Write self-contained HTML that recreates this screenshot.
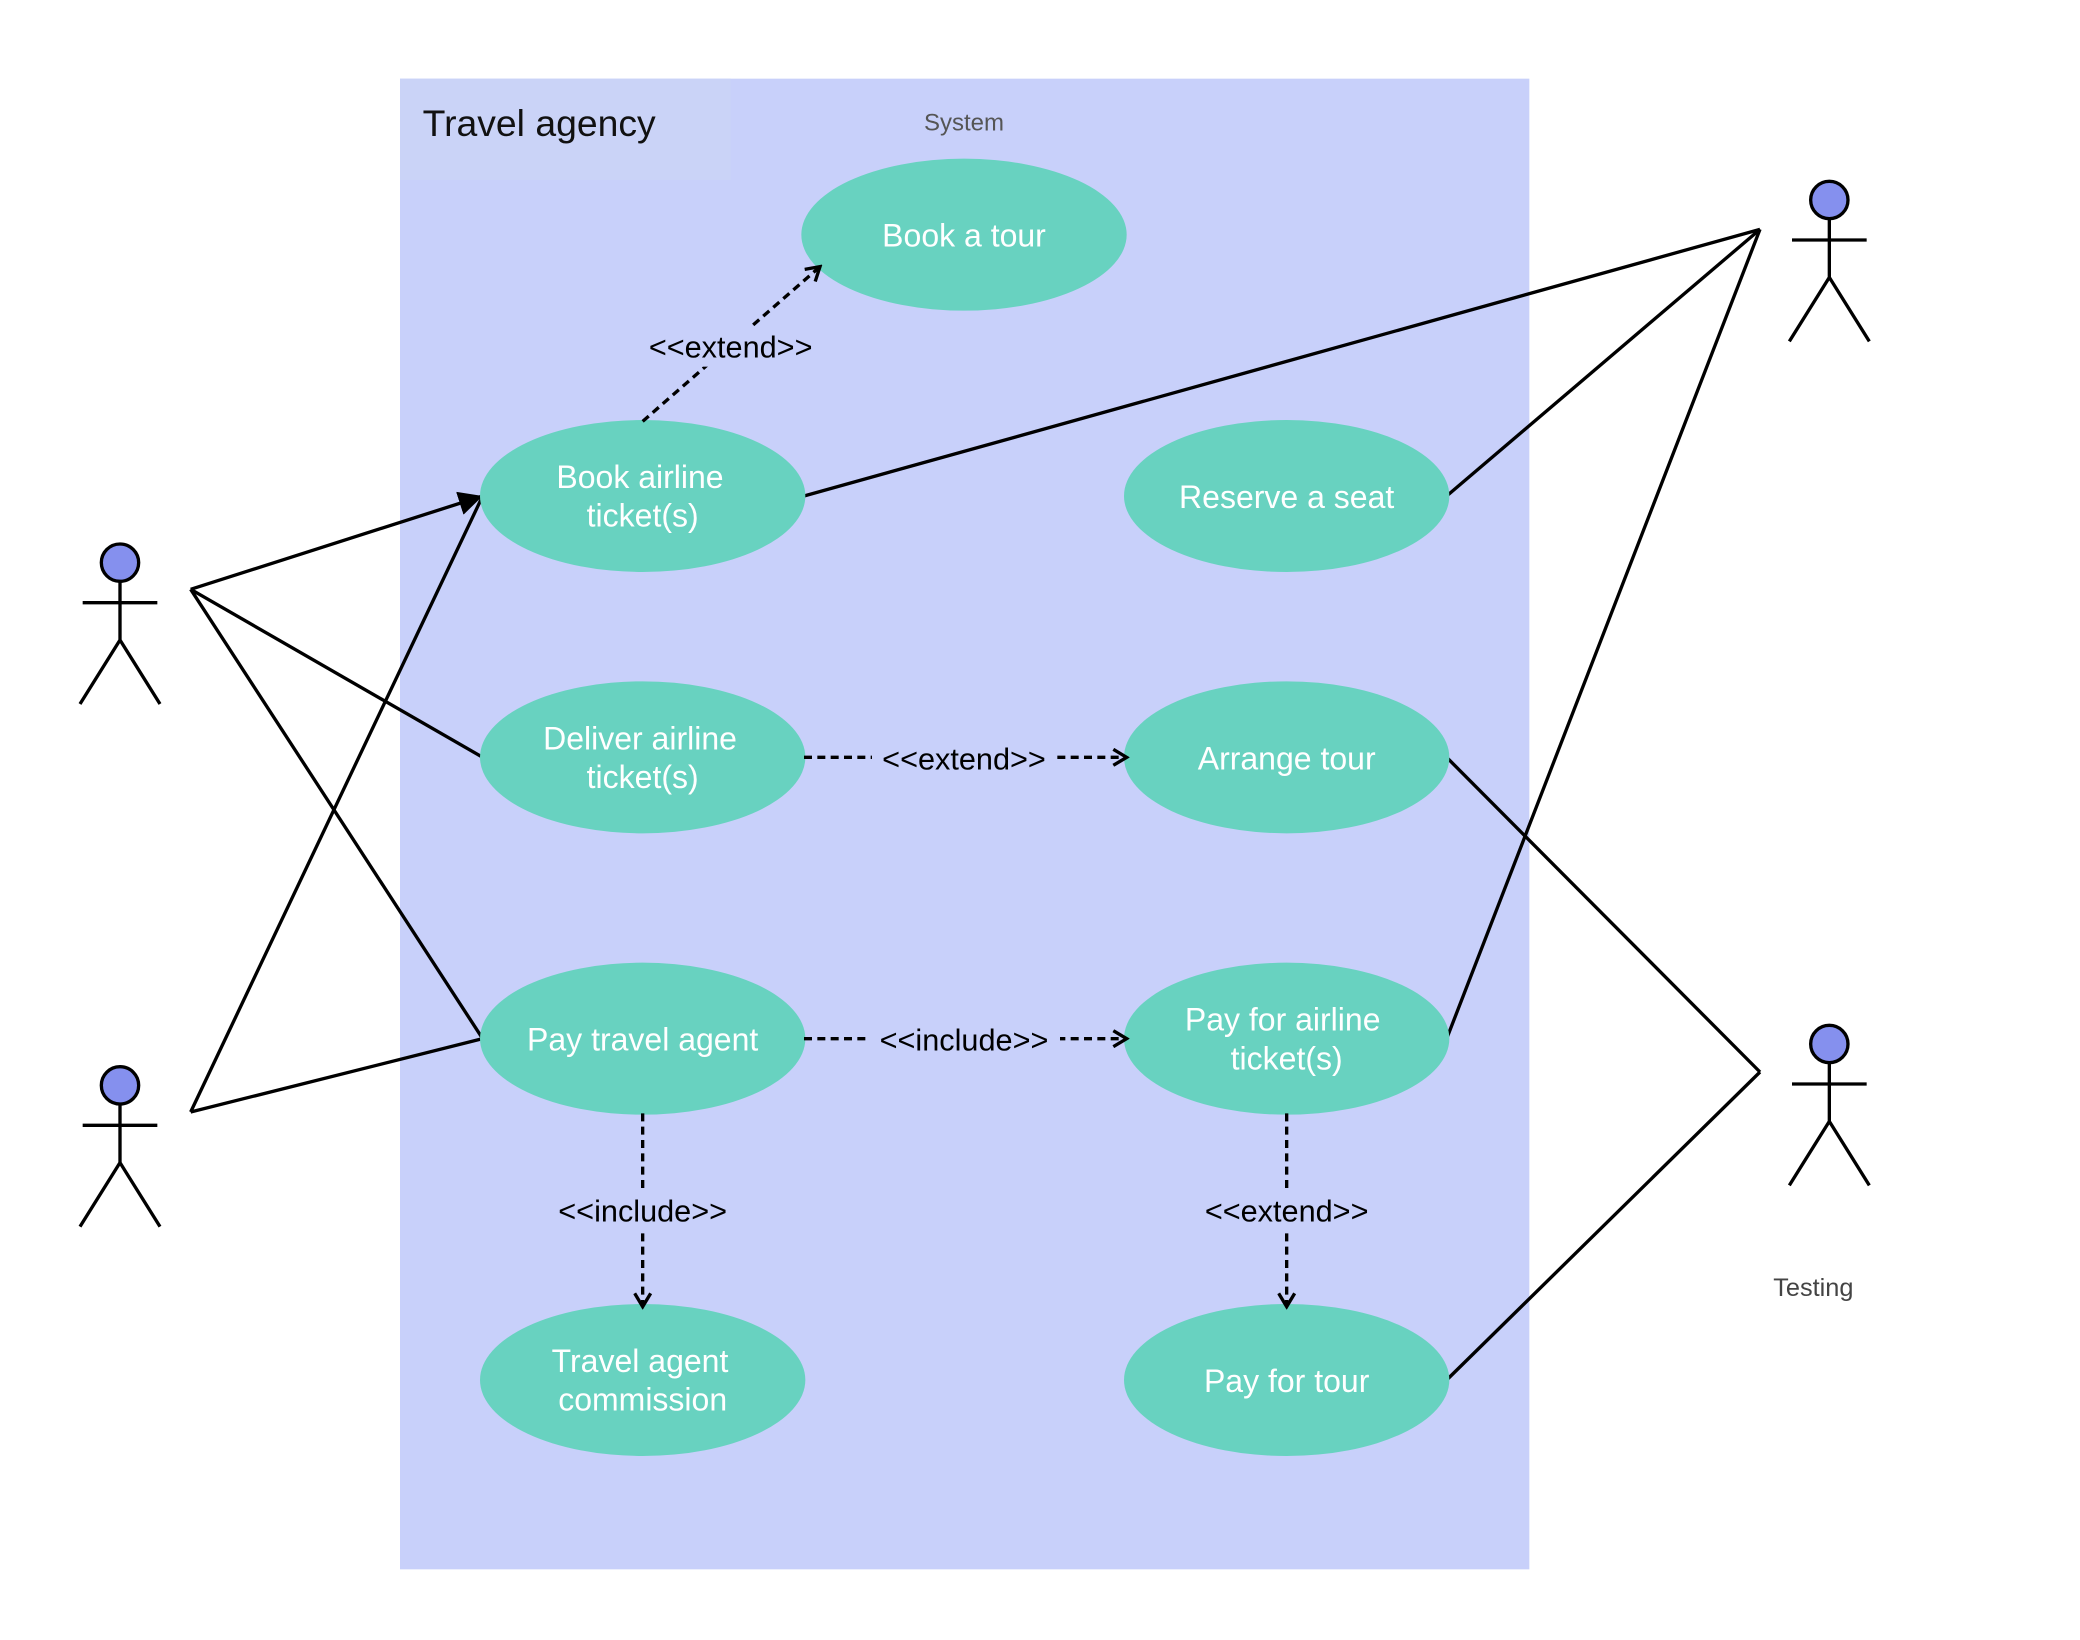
<!DOCTYPE html>
<html><head><meta charset="utf-8"><style>
html,body{margin:0;padding:0;background:#fff;width:2080px;height:1640px;overflow:hidden}
svg{display:block}
text{font-family:"Liberation Sans","DejaVu Sans",sans-serif}
</style></head><body>
<svg width="2080" height="1640" viewBox="0 0 1560 1230" xmlns="http://www.w3.org/2000/svg">
<defs>
<marker id="open" markerWidth="14" markerHeight="14" refX="12" refY="7" orient="auto" markerUnits="userSpaceOnUse">
<path d="M2,1 L12,7 L2,13" fill="none" stroke="#000" stroke-width="2.5"/></marker>
<marker id="fill" markerWidth="20" markerHeight="18" refX="18" refY="9" orient="auto" markerUnits="userSpaceOnUse">
<path d="M0,0 L18,9 L0,18 Z" fill="#000"/></marker>
</defs>
<rect x="300" y="59" width="847" height="1118" fill="#c8d0fa"/>
<rect x="300" y="59" width="248" height="76" fill="#cad3f7"/>
<text x="317" y="102" font-size="28" fill="#111">Travel agency</text>
<text x="723" y="98" font-size="18" fill="#555" text-anchor="middle">System</text>

<g stroke="#000" stroke-width="2.5" fill="none">
<line x1="143" y1="442" x2="362" y2="372" marker-end="url(#fill)"/>
<line x1="143" y1="442" x2="362" y2="568"/>
<line x1="143" y1="442" x2="362" y2="779"/>
<line x1="143" y1="834" x2="362" y2="372"/>
<line x1="143" y1="834" x2="362" y2="779"/>
<line x1="1320" y1="172" x2="603" y2="372"/>
<line x1="1320" y1="172" x2="1085" y2="372"/>
<line x1="1320" y1="172" x2="1085" y2="779"/>
<line x1="1320" y1="804" x2="1085" y2="568"/>
<line x1="1320" y1="804" x2="1085" y2="1035"/>
</g>

<g fill="#68d2c0">
<ellipse cx="723" cy="176" rx="122" ry="57"/>
<ellipse cx="482" cy="372" rx="122" ry="57"/>
<ellipse cx="965" cy="372" rx="122" ry="57"/>
<ellipse cx="482" cy="568" rx="122" ry="57"/>
<ellipse cx="965" cy="568" rx="122" ry="57"/>
<ellipse cx="482" cy="779" rx="122" ry="57"/>
<ellipse cx="965" cy="779" rx="122" ry="57"/>
<ellipse cx="482" cy="1035" rx="122" ry="57"/>
<ellipse cx="965" cy="1035" rx="122" ry="57"/>
</g>

<g fill="#fff" font-size="24" text-anchor="middle">
<text x="723" y="185">Book a tour</text>
<text x="480" y="366">Book airline</text><text x="482" y="395">ticket(s)</text>
<text x="965" y="381">Reserve a seat</text>
<text x="480" y="562">Deliver airline</text><text x="482" y="591">ticket(s)</text>
<text x="965" y="577">Arrange tour</text>
<text x="482" y="788">Pay travel agent</text>
<text x="962" y="773">Pay for airline</text><text x="965" y="802">ticket(s)</text>
<text x="480" y="1029">Travel agent</text><text x="482" y="1058">commission</text>
<text x="965" y="1044">Pay for tour</text>
</g>

<g stroke="#000" stroke-width="2.5" fill="none" stroke-dasharray="6,4">
<line x1="482" y1="316" x2="615" y2="200" marker-end="url(#open)"/>
<line x1="603" y1="568" x2="845" y2="568" marker-end="url(#open)"/>
<line x1="603" y1="779" x2="845" y2="779" marker-end="url(#open)"/>
<line x1="482" y1="835" x2="482" y2="980" marker-end="url(#open)"/>
<line x1="965" y1="835" x2="965" y2="980" marker-end="url(#open)"/>
</g>
<g fill="#c8d0fa">
<rect x="482" y="245" width="132" height="30"/>
<rect x="654" y="553" width="138" height="30"/>
<rect x="651" y="764" width="144" height="30"/>
<rect x="411" y="892" width="142" height="32"/>
<rect x="896" y="892" width="138" height="32"/>
</g>
<g fill="#000" font-size="23" text-anchor="middle">
<text x="548" y="268">&lt;&lt;extend&gt;&gt;</text>
<text x="723" y="577">&lt;&lt;extend&gt;&gt;</text>
<text x="723" y="788">&lt;&lt;include&gt;&gt;</text>
<text x="482" y="916">&lt;&lt;include&gt;&gt;</text>
<text x="965" y="916">&lt;&lt;extend&gt;&gt;</text>
</g>

<g stroke="#000" stroke-width="2.5" fill="none">
<g transform="translate(90,422)"><circle r="14" fill="#8590ee"/><path d="M0,14 V58 M-28,30 H28 M0,58 L-30,106 M0,58 L30,106"/></g>
<g transform="translate(90,814)"><circle r="14" fill="#8590ee"/><path d="M0,14 V58 M-28,30 H28 M0,58 L-30,106 M0,58 L30,106"/></g>
<g transform="translate(1372,150)"><circle r="14" fill="#8590ee"/><path d="M0,14 V58 M-28,30 H28 M0,58 L-30,106 M0,58 L30,106"/></g>
<g transform="translate(1372,783)"><circle r="14" fill="#8590ee"/><path d="M0,14 V58 M-28,30 H28 M0,58 L-30,106 M0,58 L30,106"/></g>
</g>
<text x="1360" y="972" font-size="19" fill="#444" text-anchor="middle">Testing</text>
</svg>
</body></html>
